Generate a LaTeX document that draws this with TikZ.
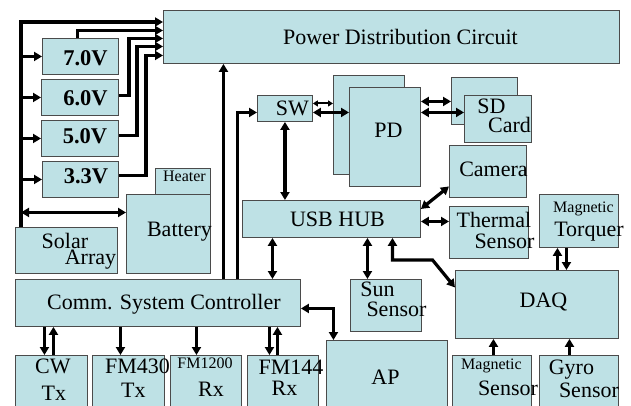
\documentclass[tikz,border=0pt]{standalone}
\usepackage{fontspec}
\setmainfont{Liberation Serif}
\usepackage{xcolor}
\usetikzlibrary{positioning,arrows.meta,calc}

\definecolor{boxfill}{RGB}{190,225,229}
\definecolor{boxline}{RGB}{75,75,75}
\newcommand{\mainfnt}{\fontsize{22}{22}\selectfont}
\newcommand{\voltfnt}{\fontsize{22.5}{22.5}\selectfont\bfseries}
\newcommand{\smallfnt}{\fontsize{16}{16}\selectfont}

\begin{document}
\begin{tikzpicture}[x=1pt, y=-1pt,
    font=\mainfnt,
    blk/.style  = {draw=boxline, fill=boxfill, line width=0.9pt, inner sep=0pt, anchor=north west},
    bw/.style   = {minimum width=#1},
    bh/.style   = {minimum height=#1},
    every label/.style = {inner sep=0pt, font=\mainfnt},
    vl/.style   = {font=\voltfnt},
    sm/.style   = {font=\smallfnt},
    ar/.style   = {-{Triangle[length=8pt,width=9pt]}, line width=3.2pt},
    dar/.style  = {{Triangle[length=8pt,width=9pt]}-{Triangle[length=8pt,width=9pt]}, line width=3.2pt},
    sdar/.style = {{Triangle[length=5pt,width=6pt]}-{Triangle[length=5pt,width=6pt]}, line width=2pt},
]
\useasboundingbox (0,0) rectangle (631,405);
\clip (0,0) rectangle (631,405);

%--- power side
\node[blk, bw=456pt, bh=53pt, label={[xshift=9pt]center:Power Distribution Circuit}] (pdc) at (163,10) {};
\node[blk, bw=76pt, bh=36pt, label={[vl,xshift=5pt,yshift=-1.5pt]center:7.0V}] (v70) at (42,38) {};
\node[blk, bw=77pt, bh=36pt, label={[vl,xshift=5.5pt,yshift=-0.5pt]center:6.0V}] (v60) at (41,79) {};
\node[blk, bw=77pt, bh=36pt, label={[vl,xshift=5pt,yshift=2.5pt]center:5.0V}] (v50) at (41,120) {};
\node[blk, bw=76pt, bh=36pt, label={[vl,xshift=5.5pt,yshift=3.5pt]center:3.3V}] (v33) at (42,161) {};
\node[blk, bw=55pt, bh=26pt, label={[sm,xshift=1.5pt,yshift=5pt]center:Heater}] (heat) at (155,168) {};
\node[blk, bw=84pt, bh=79pt, label={[xshift=11pt,yshift=2pt]center:Battery}] (bat) at (126,194) {};
\node[blk, bw=102pt, bh=46pt, label={[xshift=-1.5pt,yshift=9pt]center:Solar},
      label={[xshift=24pt,yshift=-9.5pt]center:Array}] (sol) at (15,227) {};

%--- comm side
\node[blk, bw=285pt, bh=47pt, label={[xshift=6pt,yshift=-1.5pt]center:Comm. System Controller}] (csc) at (15,279) {};
\node[blk, bw=72pt, bh=55pt, label={[xshift=1.5pt,yshift=17pt]center:CW},
      label={[xshift=2.5pt,yshift=-10pt]center:Tx}] (cw) at (15,355) {};
\node[blk, bw=72pt, bh=55pt, label={[xshift=9pt,yshift=17pt]center:FM430},
      label={[xshift=5pt,yshift=-7pt]center:Tx}] (fm430) at (92,355) {};
\node[blk, bw=71pt, bh=55pt, label={[sm,xshift=-1pt,yshift=20pt]center:FM1200},
      label={[xshift=5pt,yshift=-6pt]center:Rx}] (fm1200) at (170,355) {};
\node[blk, bw=71pt, bh=55pt, label={[xshift=8pt,yshift=16pt]center:FM144},
      label={[xshift=1.5pt,yshift=-5pt]center:Rx}] (fm144) at (247,355) {};
\node[blk, bw=121pt, bh=70pt, label={[xshift=-1.5pt,yshift=-2pt]center:AP}] (ap) at (326,340) {};

%--- data side
\node[blk, bw=55pt, bh=26pt, label={[xshift=7.5pt]center:SW}] (sw) at (257,95) {};
\node[blk, bw=71pt, bh=99pt] (pdb) at (333,75) {};
\node[blk, bw=71pt, bh=99pt, label={[xshift=3.5pt,yshift=6.5pt]center:PD}] (pdf) at (349,87) {};
\node[blk, bw=66pt, bh=47pt] (sdb) at (451,77) {};
\node[blk, bw=67pt, bh=47pt, label={[xshift=-6.5pt,yshift=12.5pt]center:SD},
      label={[xshift=11.5pt,yshift=-6.5pt]center:Card}] (sdf) at (464,95) {};
\node[blk, bw=178pt, bh=37pt, label={[xshift=6pt]center:USB HUB}] (usb) at (242,200) {};
\node[blk, bw=77pt, bh=52pt, label={[xshift=5.5pt,yshift=2.5pt]center:Camera}] (cam) at (449,145) {};
\node[blk, bw=79pt, bh=52pt, label={[xshift=5pt,yshift=12pt]center:Thermal},
      label={[xshift=15.5pt,yshift=-8.5pt]center:Sensor}] (therm) at (449,206) {};
\node[blk, bw=71pt, bh=52pt, label={[xshift=-8.5pt,yshift=16.5pt]center:Sun},
      label={[xshift=10.5pt,yshift=-4pt]center:Sensor}] (sun) at (350,279) {};
\node[blk, bw=79pt, bh=53pt, label={[sm,xshift=4.5pt,yshift=12.5pt]center:Magnetic},
      label={[xshift=10pt,yshift=-11pt]center:Torquer}] (torq) at (539,194) {};
\node[blk, bw=163pt, bh=68pt, label={[xshift=6.5pt,yshift=2.5pt]center:DAQ}] (daq) at (455,270) {};
\node[blk, bw=79pt, bh=55pt, label={[sm,xshift=-0.5pt,yshift=17.5pt]center:Magnetic},
      label={[xshift=16pt,yshift=-5pt]center:Sensor}] (msen) at (452,355) {};
\node[blk, bw=79pt, bh=55pt, label={[xshift=-7.5pt,yshift=13.5pt]center:Gyro},
      label={[xshift=10pt,yshift=-7.5pt]center:Sensor}] (gyro) at (539,355) {};

%--- power bus
\coordinate (bus) at (21,22);
\draw[ar] (bus |- sol.north) -- (bus) -- (bus -| pdc.west);
\foreach \r in {v70,v60,v50,v33}
  \draw[ar] (bus |- \r.west) -- (\r.west);
\draw[dar] ([yshift=21.5pt]bus |- bat.west) -- ([yshift=21.5pt]bat.west);

%--- regulator outputs
\draw[ar] ([xshift=-3pt]v70.north) |- ([yshift=6.5pt]pdc.west);
\draw[ar] ([yshift=2pt]v60.east) -- ++(10,0) |- ([yshift=-1.5pt]pdc.west);
\draw[ar] ([yshift=3pt]v50.east) -- ++(18,0) |- ([yshift=-9.5pt]pdc.west);
\draw[ar] ([yshift=4pt]v33.east) -- ++(27,0) |- ([yshift=-18.5pt]pdc.west);

%--- controller links
\draw[ar] ([xshift=65.5pt]csc.north) -- ([xshift=65.5pt]csc.north |- pdc.south);
\draw[ar] ([xshift=79.5pt]csc.north) |- ([yshift=-4pt]sw.west);
\draw[dar] ([yshift=-5.5pt]csc.east) -| ([xshift=-53.5pt]ap.north);
\draw[ar] ([xshift=-7pt]cw.north |- csc.south) -- ([xshift=-7pt]cw.north);
\draw[ar] ([xshift=2pt]cw.north) -- ([xshift=2pt]cw.north |- csc.south);
\draw[ar] ([xshift=-8pt]fm430.north |- csc.south) -- ([xshift=-8pt]fm430.north);
\draw[ar] ([xshift=-9.5pt]fm1200.north |- csc.south) -- ([xshift=-9.5pt]fm1200.north);
\draw[ar] ([xshift=-13.5pt]fm144.north |- csc.south) -- ([xshift=-13.5pt]fm144.north);
\draw[ar] ([xshift=-5.5pt]fm144.north) -- ([xshift=-5.5pt]fm144.north |- csc.south);

%--- data links
\draw[dar] (sw.south) -- (sw.south |- usb.north);
\draw[sdar] ([yshift=5pt]sw.east) -- ([yshift=5pt]sw.east -| pdb.west);
\draw[dar] ([yshift=-4pt]sw.east) -- ([yshift=-4pt]sw.east -| pdf.west);
\draw[dar] ([yshift=35.5pt]pdf.east) -- ([yshift=35.5pt]pdf.east -| sdb.west);
\draw[dar] ([yshift=24.5pt]pdf.east) -- ([yshift=24.5pt]pdf.east -| sdf.west);
\draw[dar] ([yshift=10pt]usb.east) -- ([yshift=-15pt]cam.west);
\draw[dar] ([yshift=-2.5pt]usb.east) -- ([yshift=-2.5pt]usb.east -| therm.west);
\draw[dar] ([xshift=-59pt]usb.south) -- ([xshift=-59pt]usb.south |- csc.north);
\draw[dar] ([xshift=36pt]usb.south) -- ([xshift=36pt]usb.south |- sun.north);
\draw[dar] ([xshift=61pt]usb.south) -- ++(0,22) -- ++(40,0) -- ([yshift=17pt]daq.west);

%--- DAQ links
\draw[ar] ([xshift=20.5pt]daq.north) -- ([xshift=20.5pt]daq.north |- torq.south);
\draw[ar] ([xshift=29.5pt]daq.north |- torq.south) -- ([xshift=29.5pt]daq.north);
\draw[ar] ([xshift=1.5pt]msen.north) -- ([xshift=1.5pt]msen.north |- daq.south);
\draw[ar] ([xshift=-9.5pt]gyro.north) -- ([xshift=-9.5pt]gyro.north |- daq.south);

\end{tikzpicture}
\end{document}
